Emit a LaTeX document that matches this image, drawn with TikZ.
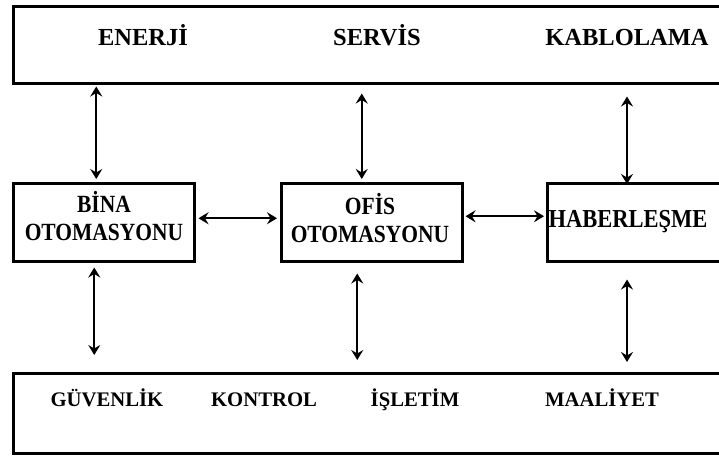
\documentclass[tikz,border=0pt]{standalone}
\usepackage{fontspec}
\setmainfont{Liberation Serif}
\usetikzlibrary{arrows.meta}
\newcommand{\uzun}[1]{\scalebox{1}[1.15]{#1}}
\begin{document}
\begin{tikzpicture}[x=1pt,y=-1pt,
  kutu/.style={draw, line width=2.5pt, rectangle, inner sep=0pt, anchor=north west},
  ucok/.tip={Stealth[length=10pt,width=12pt,inset=3.5pt]},
  ok/.style={line width=1.8pt, {ucok}-{ucok}},
  ustyazi/.style={anchor=base, inner sep=0pt, font=\bfseries\fontsize{24.5}{28}\selectfont},
  ortayazi/.style={anchor=base, inner sep=0pt, font=\bfseries\fontsize{21.5}{27}\selectfont},
  altyazi/.style={anchor=base, inner sep=0pt, font=\bfseries\fontsize{20.7}{24}\selectfont}]
\useasboundingbox (0,0) rectangle (719,455);
\clip (0,0) rectangle (719,455);

% upper layer
\node[kutu, minimum width=740pt, minimum height=77pt] (ust) at (12,5) {};
\node[ustyazi] (enerji) at (143,45) {ENERJİ};
\node[ustyazi] (servis) at (377,45) {SERVİS};
\node[ustyazi] (kablo)  at (627,45) {KABLOLAMA};

% middle layer
\node[kutu, minimum width=181pt, minimum height=78pt] (bina) at (12,182) {};
\node[ortayazi] (bina1) at (104,212) {\uzun{BİNA}};
\node[ortayazi] (bina2) at (104,240) {\uzun{OTOMASYONU}};
\node[kutu, minimum width=181pt, minimum height=78pt] (ofis) at (280,182) {};
\node[ortayazi] (ofis1) at (370,214) {\uzun{OFİS}};
\node[ortayazi] (ofis2) at (370,242) {\uzun{OTOMASYONU}};
\node[kutu, minimum width=200pt, minimum height=78pt] (haber) at (546,182) {};
\node[ortayazi, font=\bfseries\fontsize{22.5}{27}\selectfont] (haberyazi) at (628,227) {\uzun{HABERLEŞME}};

% lower layer
\node[kutu, minimum width=740pt, minimum height=80pt] (alt) at (12,372) {};
\node[altyazi] (guvenlik) at (107,406) {GÜVENLİK};
\node[altyazi] (kontrol)  at (264,406) {KONTROL};
\node[altyazi] (isletim)  at (415,406) {İŞLETİM};
\node[altyazi] (maliyet)  at (602,406) {MAALİYET};

% links to the upper layer
\draw[ok, shorten <=3pt, shorten >=2pt] ([xshift=-7.5pt]bina.north) -- ([xshift=-7.5pt]bina.north |- ust.south);
\draw[ok, shorten <=3pt, shorten >=9pt] ([xshift=-10pt]ofis.north) -- ([xshift=-10pt]ofis.north |- ust.south);
\draw[ok, shorten <=-2pt, shorten >=12pt] ([xshift=-1pt]haberyazi.base |- haber.north) -- ([xshift=-1pt]haberyazi.base |- ust.south);

% links inside the middle layer
\draw[ok, shorten <=3pt, shorten >=3pt] ([yshift=4pt]bina.east) -- ([yshift=4pt]bina.east -| ofis.west);
\draw[ok, shorten <=2pt, shorten >=2pt] ([yshift=6pt]ofis.east) -- ([yshift=6pt]ofis.east -| haber.west);

% links to the lower layer
\draw[ok, shorten <=5pt, shorten >=17pt] ([xshift=-9.5pt]bina.south) -- ([xshift=-9.5pt]bina.south |- alt.north);
\draw[ok, shorten <=11pt, shorten >=12pt] ([xshift=-14.5pt]ofis.south) -- ([xshift=-14.5pt]ofis.south |- alt.north);
\draw[ok, shorten <=17pt, shorten >=10pt] ([xshift=-1pt]haberyazi.base |- haber.south) -- ([xshift=-1pt]haberyazi.base |- alt.north);
\end{tikzpicture}
\end{document}
